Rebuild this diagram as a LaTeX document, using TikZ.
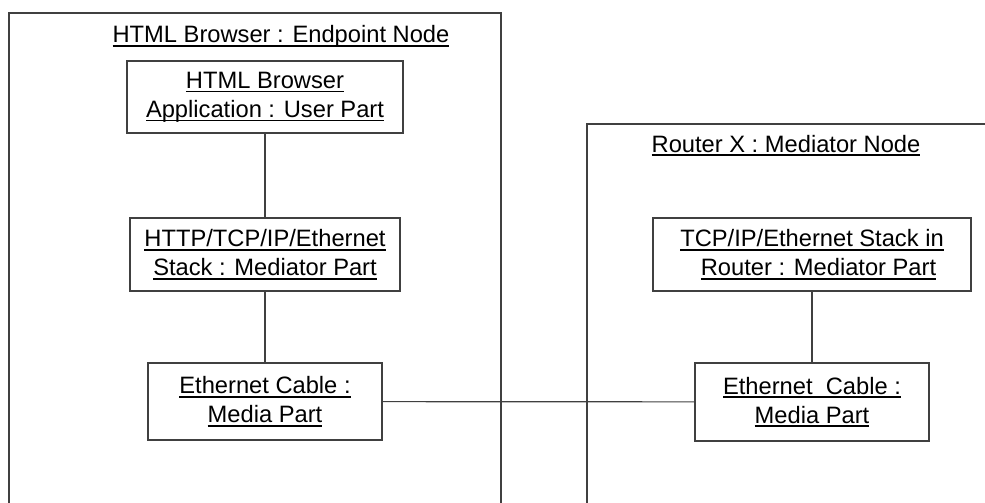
\documentclass[tikz,border=0pt]{standalone}
\usepackage{fontspec}
\setmainfont{Liberation Sans}
% underline set at a fixed depth below the baseline
\newsavebox\ulbox
\newcommand\ulx[1]{\sbox\ulbox{#1}\rlap{\usebox\ulbox}\rule[-4pt]{\wd\ulbox}{1.6pt}}
\tikzset{
  part/.style={draw=black!75, line width=1.2pt, align=center, inner sep=0pt,
    font=\fontsize{23.7}{29}\selectfont},
  frame/.style={draw=black!75, line width=1.2pt},
  wire/.style={draw=black!75, line width=1.2pt},
  nodetitle/.style={inner sep=0pt, anchor=base, font=\fontsize{23.7}{29}\selectfont}
}
\begin{document}
\begin{tikzpicture}[x=1pt,y=1pt]
\useasboundingbox (0,0) rectangle (985,-503);

% deployment nodes (open at the bottom and right)
\draw[frame] (9,-503) -- (9,-13) -- (501,-13) -- (501,-503);
\draw[frame] (587,-503) -- (587,-124) -- (985,-124);
\node[nodetitle] (endpoint) at (281,-43) {\ulx{HTML Browser : Endpoint Node}};
\node[nodetitle] (router) at (786,-152) {\ulx{Router X : Mediator Node}};

% parts
\node[part, minimum width=276pt, minimum height=72pt] (app) at (265,-97)
  {\ulx{HTML Browser}\\\ulx{Application : User Part}};
\node[part, minimum width=270pt, minimum height=73pt] (stack) at (265,-254.5)
  {\ulx{HTTP/TCP/IP/Ethernet}\\\ulx{Stack : Mediator Part}};
\node[part, minimum width=234pt, minimum height=77pt] (cableA) at (265,-401.5)
  {\ulx{Ethernet Cable :}\\\ulx{Media Part}};
\node[part, minimum width=318pt, minimum height=73pt] (rstack) at (812,-254.5)
  {\ulx{TCP/IP/Ethernet Stack in}\\\hspace*{13pt}\ulx{Router : Mediator Part}};
\node[part, minimum width=234pt, minimum height=78pt] (cableB) at (812,-402)
  {\ulx{Ethernet\ \ Cable :}\\\ulx{Media Part}};

% links
\draw[wire] (app) -- (stack);
\draw[wire] (stack) -- (cableA);
\draw[wire] (rstack) -- (cableB);
\draw[wire] (cableA) -- (cableB);
\end{tikzpicture}
\end{document}
